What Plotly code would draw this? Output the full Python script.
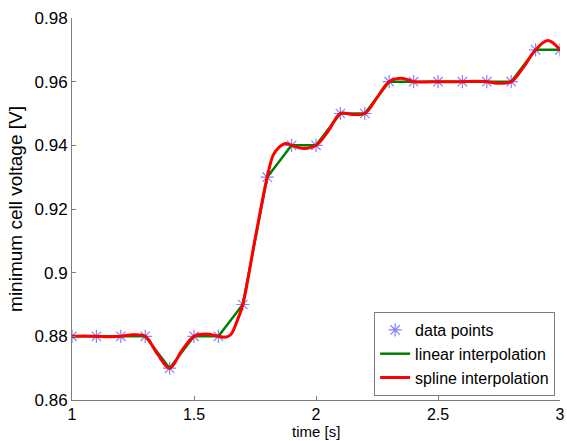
import plotly.graph_objects as go

# measured samples
time_s = [1.0, 1.1, 1.2, 1.3, 1.4, 1.5, 1.6, 1.7, 1.8, 1.9, 2.0,
          2.1, 2.2, 2.3, 2.4, 2.5, 2.6, 2.7, 2.8, 2.9, 3.0]
voltage = [0.88, 0.88, 0.88, 0.88, 0.87, 0.88, 0.88, 0.89, 0.93, 0.94, 0.94,
           0.95, 0.95, 0.96, 0.96, 0.96, 0.96, 0.96, 0.96, 0.97, 0.97]

# spline curve sampled more densely (passes through every measured sample)
spline_t = [1.0, 1.05, 1.1, 1.15, 1.2, 1.25, 1.3, 1.35, 1.4, 1.45, 1.5,
            1.55, 1.6, 1.625, 1.65, 1.675, 1.7, 1.75, 1.8, 1.825, 1.85,
            1.875, 1.9, 1.95, 2.0, 2.05, 2.1, 2.15, 2.2, 2.25, 2.3, 2.35,
            2.4, 2.45, 2.5, 2.55, 2.6, 2.65, 2.7, 2.75, 2.8, 2.85, 2.9,
            2.95, 3.0]
spline_v = [0.88, 0.8801, 0.88, 0.8799, 0.88, 0.8805, 0.88, 0.8745, 0.87,
            0.8755, 0.88, 0.8807, 0.88, 0.8797, 0.8805, 0.8845, 0.89,
            0.9105, 0.93, 0.937, 0.9395, 0.9406, 0.94, 0.939, 0.94, 0.9445,
            0.95, 0.9497, 0.95, 0.955, 0.96, 0.9611, 0.96, 0.9599, 0.96,
            0.96, 0.96, 0.9601, 0.96, 0.9595, 0.96, 0.9645, 0.97, 0.9729,
            0.97]

x_ticks = [1, 1.5, 2, 2.5, 3]
x_tick_text = ["1", "1.5", "2", "2.5", "3"]
y_ticks = [0.86, 0.88, 0.90, 0.92, 0.94, 0.96, 0.98]
y_tick_text = ["0.86", "0.88", "0.9", "0.92", "0.94", "0.96", "0.98"]

font_family = "Liberation Sans, Arial, sans-serif"

fig = go.Figure()

fig.add_trace(go.Scatter(
    x=time_s, y=voltage, mode="markers", name="data points",
    marker=dict(symbol="asterisk-open", size=11, color="rgba(90,90,255,0.75)",
                line=dict(width=1.2, color="rgba(90,90,255,0.75)")),
))
fig.add_trace(go.Scatter(
    x=time_s, y=voltage, mode="lines", name="linear interpolation",
    line=dict(color="#008000", width=2.5),
))
fig.add_trace(go.Scatter(
    x=spline_t, y=spline_v, mode="lines", name="spline interpolation",
    line=dict(color="#ff0000", width=3, shape="spline", smoothing=1.0),
))

axis_common = dict(
    showgrid=False, zeroline=False, showline=True, linecolor="#7f7f7f",
    linewidth=1, ticks="inside", ticklen=4, tickcolor="#7f7f7f",
    mirror=False, automargin=False,
)

fig.update_layout(
    width=567, height=441,
    margin=dict(l=72, r=7, t=18, b=41),
    paper_bgcolor="white", plot_bgcolor="white",
    font=dict(family=font_family, size=17, color="black"),
    xaxis=dict(range=[1, 3], tickvals=x_ticks, ticktext=x_tick_text,
               tickfont=dict(family=font_family, size=16, color="black"),
               **axis_common),
    yaxis=dict(range=[0.86, 0.98], tickvals=y_ticks, ticktext=y_tick_text,
               tickfont=dict(family=font_family, size=17, color="black"),
               title=dict(text="minimum cell voltage [V]", standoff=6,
                          font=dict(family=font_family, size=19)),
               **axis_common),
    legend=dict(x=0.99, y=0.0105, xanchor="right", yanchor="bottom",
                bgcolor="white", bordercolor="#7f7f7f", borderwidth=1,
                font=dict(family=font_family, size=16, color="black"),
                tracegroupgap=0, itemwidth=30),
    showlegend=True,
)

# x-axis title just under the tick labels, at the lower edge
fig.add_annotation(
    text="time [s]", xref="paper", yref="paper", x=0.5, y=0,
    xanchor="center", yanchor="top", yshift=-22, showarrow=False,
    borderpad=0, font=dict(family=font_family, size=15, color="black"),
)

fig.write_html("out.html")
